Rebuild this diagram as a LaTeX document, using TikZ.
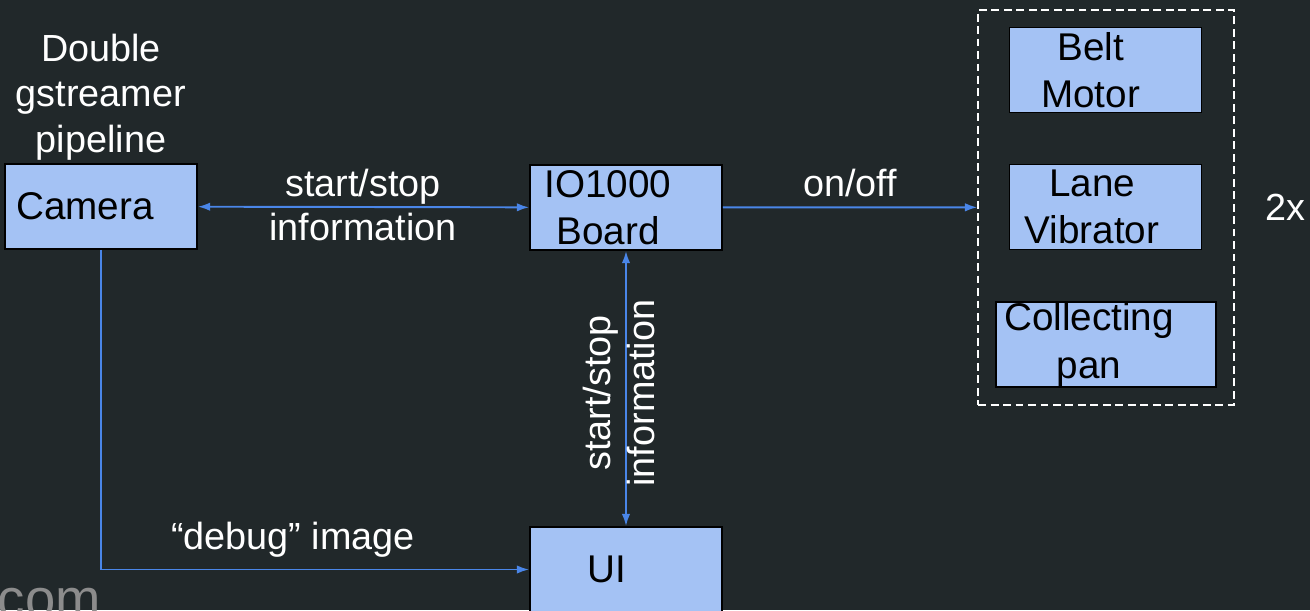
\documentclass[tikz,border=0pt]{standalone}
\usepackage{fontspec}
\setmainfont{Liberation Sans}
\usepackage{tikz}
\usetikzlibrary{arrows.meta,positioning,fit}
\definecolor{slate}{RGB}{33,40,42}
\definecolor{boxblue}{HTML}{A4C2F4}
\definecolor{linkblue}{HTML}{4A86E8}
\definecolor{markgray}{RGB}{140,140,140}
\tikzset{font=\fontsize{22}{27}\selectfont}
\tikzset{>={Latex[length=7pt,width=4.8pt]}}
\tikzset{block/.style={draw=black, line width=1pt, fill=boxblue,
    minimum width=3.84cm, minimum height=1.7cm, inner sep=0pt}}
\tikzset{inbox/.style={text=black, align=center, inner sep=0pt}}
\tikzset{note/.style={text=white, align=center, inner sep=0pt,
    font=\fontsize{21.5}{25}\selectfont}}
\tikzset{link/.style={draw=linkblue, line width=1.1pt}}

\begin{document}
\begin{tikzpicture}[x=0.02cm,y=-0.02cm]
  \fill[slate] (0,0) rectangle (1310,610);
  \clip (0,0) rectangle (1310,610);
  % boxes
  \node[block, label={[inbox,xshift=-0.32cm]center:Camera}] (camera) at (101,206.5) {};
  \node[block, label={[inbox,xshift=-0.36cm]center:{IO1000\\Board}}] (board) at (626,207.5) {};
  \node[block, label={[inbox,xshift=-0.38cm]center:UI}] (ui) at (626,569.5) {};
  \node[block, label={[inbox,xshift=-0.3cm]center:{Belt\\Motor}}] (belt) at (1105.5,70) {};
  \node[block, label={[inbox,xshift=-0.27cm]center:{Lane\\Vibrator}}] (lane) at (1105.5,207) {};
  \node[block, minimum width=4.4cm, label={[inbox,xshift=-0.34cm]center:{Collecting\\pan}}] (pan) at (1106,344.5) {};
  \node[draw=white, dash pattern=on 4.5pt off 2.6pt, line width=1pt,
    inner sep=0.34cm, fit=(belt)(pan)] (group) {};
  % connectors
  \draw[link, <->] (camera) -- (board);
  \draw[link, <->] (board) -- (ui);
  \draw[link, ->] (board) -- (group);
  \draw[link, ->] (camera) |- (ui);
  % labels
  \node[note, font=\fontsize{21.5}{26}\selectfont] (pipe) at (101,97) {Double\\gstreamer\\pipeline};
  \node[note] (camlink) at (363,205) {start/stop\\information};
  \node[note, rotate=90] (uilink) at (619,393) {start/stop\\information};
  \node[note] (power) at (850,183) {on/off};
  \node[note] (twice) at (1285,207) {2x};
  \node[note] (debug) at (293,540) {``debug'' image};
  \node[text=markgray, font=\fontsize{31}{31}\selectfont, anchor=base east] (mark) at (107,617) {com};
\end{tikzpicture}
\end{document}
